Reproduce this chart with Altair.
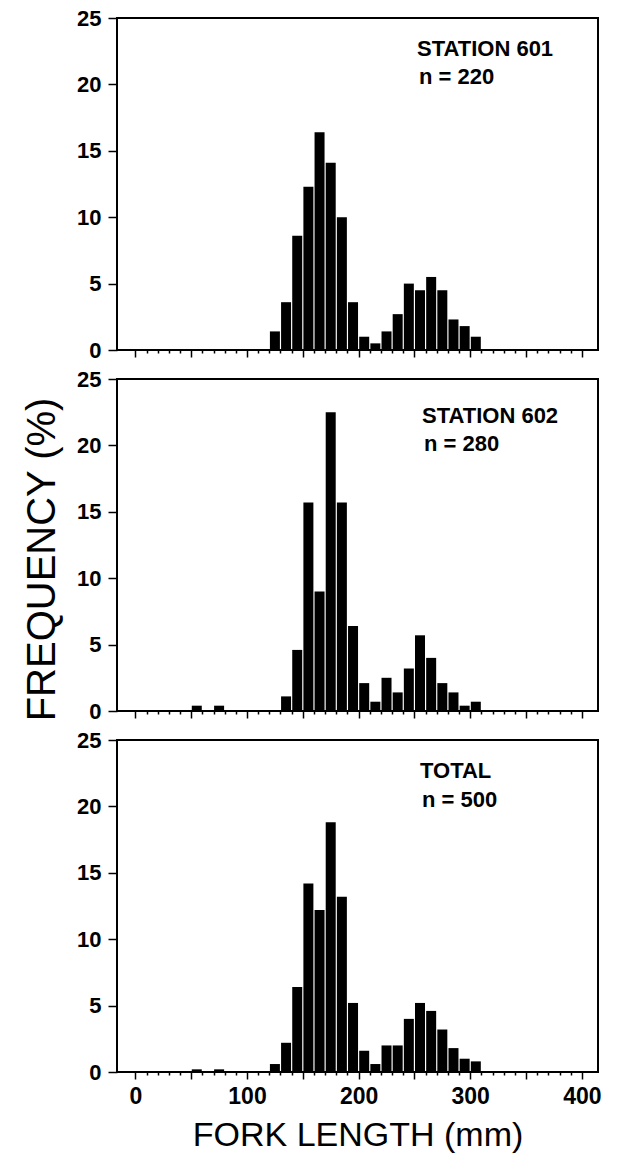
import altair as alt
import pandas as pd

# Bin midpoints (fork length, mm), 10-mm classes
lengths = [55, 65, 75, 85, 95, 105, 115, 125, 135, 145, 155, 165, 175, 185,
           195, 205, 215, 225, 235, 245, 255, 265, 275, 285, 295, 305]

# Frequency (%) per class
st601 = [0, 0, 0, 0, 0, 0, 0, 1.4, 3.6, 8.6, 12.3, 16.4, 14.1, 10.0,
         3.6, 1.0, 0.5, 1.4, 2.7, 5.0, 4.5, 5.5, 4.5, 2.3, 1.8, 1.0]
st602 = [0.4, 0, 0.4, 0, 0, 0, 0, 0, 1.1, 4.6, 15.7, 9.0, 22.5, 15.7,
         6.4, 2.1, 0.7, 2.5, 1.4, 3.2, 5.7, 4.0, 2.1, 1.4, 0.4, 0.7]
total = [0.2, 0, 0.2, 0, 0, 0, 0, 0.6, 2.2, 6.4, 14.2, 12.2, 18.8, 13.2,
         5.2, 1.6, 0.6, 2.0, 2.0, 4.0, 5.2, 4.6, 3.2, 1.8, 1.0, 0.8]

panel_names = ["STATION 601", "STATION 602", "TOTAL"]
panel_n = ["n = 220", "n = 280", "n = 500"]

x_ticks = [0, 10, 20, 30, 40, 50, 60, 70, 80, 90, 100, 110, 120, 130, 140, 150,
           160, 170, 180, 190, 200, 210, 220, 230, 240, 250, 260, 270, 280, 290,
           300, 310, 320, 330, 340, 350, 360, 370, 380, 390, 400]
y_ticks = [0, 5, 10, 15, 20, 25]

FONT = "Liberation Sans"
W, H = 481, 332


def panel(vals, name, ntext, tx, ty1, ty2, bottom, ytitle):
    df = pd.DataFrame({"len": lengths, "freq": vals})
    xaxis_kw = dict(
        values=x_ticks,
        domain=False,
        grid=False,
        tickSize={"condition": {"test": "datum.value % 50 === 0", "value": 7}, "value": 3},
        tickColor="black",
        tickWidth=1.5,
    )
    if bottom:
        xaxis_kw.update(
            labelExpr="datum.value % 100 === 0 ? datum.label : ''",
            labelFontSize=23,
            labelFontWeight="bold",
            labelPadding=6,
            labelFont=FONT,
            labelColor="black",
            title="FORK LENGTH (mm)",
            titleFontSize=34,
            titleFont=FONT,
            titleFontWeight="normal",
            titleColor="black",
            titlePadding=10,
        )
    else:
        xaxis_kw.update(labels=False, title=None)

    yaxis_kw = dict(
        values=y_ticks,
        domain=False,
        grid=False,
        tickSize=9,
        tickColor="black",
        tickWidth=1.5,
        labelFontSize=22,
        labelFontWeight="bold",
        labelFont=FONT,
        labelColor="black",
        labelPadding=7,
    )
    if ytitle:
        yaxis_kw.update(
            title="FREQUENCY (%)",
            titleFontSize=40,
            titleFont=FONT,
            titleFontWeight="normal",
            titleColor="black",
            titlePadding=14,
            titleY=180,
        )
    else:
        yaxis_kw.update(title=None)

    bars = alt.Chart(df).mark_bar(size=10, color="black").encode(
        x=alt.X("len:Q", scale=alt.Scale(domain=[-12, 410], nice=False, zero=False),
                axis=alt.Axis(**xaxis_kw)),
        y=alt.Y("freq:Q", scale=alt.Scale(domain=[0, 25], nice=False),
                axis=alt.Axis(**yaxis_kw)),
    )
    t1 = alt.Chart(pd.DataFrame({"t": [name]})).mark_text(
        align="left", baseline="alphabetic", fontSize=22, fontWeight="bold",
        font=FONT, color="black"
    ).encode(text="t:N", x=alt.value(tx), y=alt.value(ty1))
    t2 = alt.Chart(pd.DataFrame({"t": [ntext]})).mark_text(
        align="left", baseline="alphabetic", fontSize=22, fontWeight="bold",
        font=FONT, color="black"
    ).encode(text="t:N", x=alt.value(tx + 2), y=alt.value(ty2))
    return alt.layer(bars, t1, t2).properties(width=W, height=H)


p1 = panel(st601, panel_names[0], panel_n[0], 300, 38, 66, False, False)
p2 = panel(st602, panel_names[1], panel_n[1], 305, 44, 72, False, True)
p3 = panel(total, panel_names[2], panel_n[2], 303, 38, 67, True, False)

chart = alt.vconcat(p1, p2, p3, spacing=29, bounds="flush").properties(
    padding={"left": 21, "top": 6, "right": 5, "bottom": 5},
    background="white",
).configure_view(stroke="black", strokeWidth=2)

chart.save("out.html", embed_options={"renderer": "svg", "actions": False})
